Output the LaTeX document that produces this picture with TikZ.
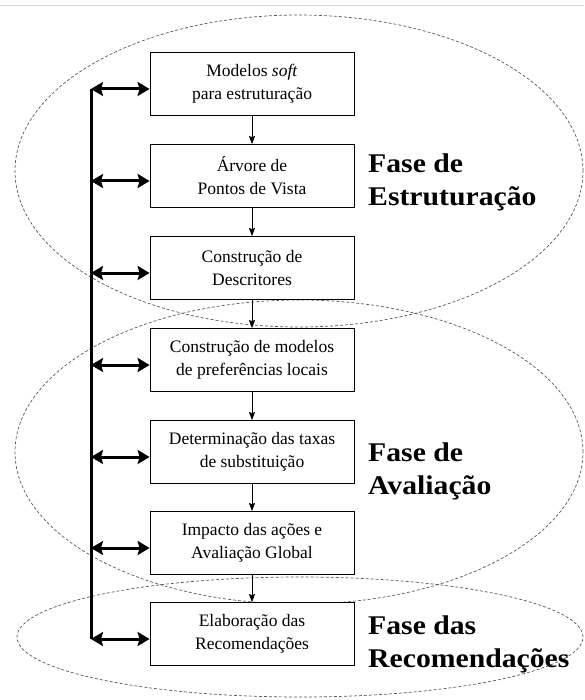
\documentclass[tikz,border=0pt]{standalone}
\usepackage{fontspec}
\setmainfont{Liberation Serif}
\newfontfamily\phasefont[FakeStretch=1.1]{Liberation Serif Bold}
\usetikzlibrary{arrows.meta, shapes.geometric}

\begin{document}
\begin{tikzpicture}[x=1pt, y=-1pt,
  box/.style={rectangle, draw, fill=white, line width=0.8pt, minimum width=204pt, minimum height=63pt, align=center, font=\fontsize{17.5}{23}\selectfont},
  arrow/.style={-{Stealth[length=8pt, width=6pt, inset=1pt]}, line width=0.8pt},
  dblarrow/.style={{Stealth[length=12pt, width=14pt, inset=2pt]}-{Stealth[length=12pt, width=14pt, inset=2pt]}, line width=3pt},
  phase/.style={anchor=north west, inner sep=0pt, align=left, font=\phasefont\fontsize{27}{33}\selectfont},
  region/.style={draw=black!65, dashed, dash pattern=on 3pt off 2pt, line width=0.7pt}
]
  \useasboundingbox (0,0) rectangle (584,700);
  \draw[black!15, line width=1pt] (0,6) -- (584,6);

  % Phases
  \draw[region] (299,171) ellipse [x radius=284pt, y radius=156pt];
  \draw[region] (299,452) ellipse [x radius=284pt, y radius=152pt];
  \draw[region] (300,637) ellipse [x radius=283pt, y radius=60pt];

  % Steps
  \node[box] (soft) at (252,84) {Modelos \textit{soft}\\para estruturação};
  \node[box] (tree) at (252,176) {Árvore de\\Pontos de Vista};
  \node[box] (desc) at (252,268) {Construção de\\Descritores};
  \node[box] (pref) at (252,360) {Construção de modelos\\de preferências locais};
  \node[box] (rates) at (252,452) {Determinação das taxas\\de substituição};
  \node[box] (impact) at (252,543) {Impacto das ações e\\Avaliação Global};
  \node[box] (recom) at (252,634) {Elaboração das\\Recomendações};

  % Phase labels
  \node[phase] (estr) at (368,154) {Fase de\\Estruturação};
  \node[phase] (aval) at (368,443) {Fase de\\Avaliação};
  \node[phase] (rec) at (368,616) {Fase das\\Recomendações};

  \draw[arrow] (soft) -- (tree);
  \draw[arrow] (tree) -- (desc);
  \draw[arrow] (desc) -- (pref);
  \draw[arrow] (pref) -- (rates);
  \draw[arrow] (rates) -- (impact);
  \draw[arrow] (impact) -- (recom);

  % Feedback bus
  \coordinate (s1) at (91,89);
  \coordinate (s2) at (91,181);
  \coordinate (s3) at (91,273);
  \coordinate (s4) at (91,365);
  \coordinate (s5) at (91,457);
  \coordinate (s6) at (91,548);
  \coordinate (s7) at (91,639);
  \draw[line width=3pt] (s1) -- (s7);
  \draw[dblarrow] (s1) -- (s1 -| soft.west);
  \draw[dblarrow] (s2) -- (s2 -| tree.west);
  \draw[dblarrow] (s3) -- (s3 -| desc.west);
  \draw[dblarrow] (s4) -- (s4 -| pref.west);
  \draw[dblarrow] (s5) -- (s5 -| rates.west);
  \draw[dblarrow] (s6) -- (s6 -| impact.west);
  \draw[dblarrow] (s7) -- (s7 -| recom.west);
\end{tikzpicture}
\end{document}
